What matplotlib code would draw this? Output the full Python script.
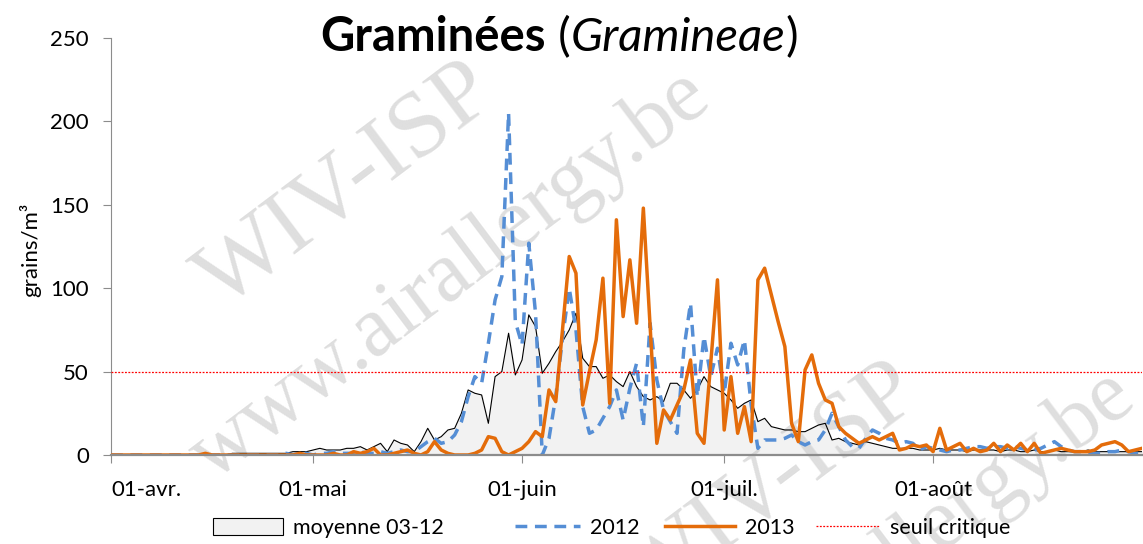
import matplotlib
matplotlib.use('Agg')
import matplotlib.pyplot as plt
from matplotlib.patches import Patch
from matplotlib.lines import Line2D
import numpy as np

# daily counts (grains/m3), day 0 = 01 April, day 153 = 01 September
moyenne = [
    0, 0, 0, 0, 0, 0, 0, 0, 0, 0,
    0, 0, 0, 0, 0, 0, 0, 0, 1, 1,
    1, 1, 1, 1, 1, 1, 1, 2, 2, 2,
    3, 4, 3, 3, 3, 4, 4, 5, 3, 5,
    7, 2, 9, 7, 6, 2, 8, 16, 9, 11,
    15, 16, 25, 39, 37, 36, 19, 47, 50, 73,
    48, 57, 84, 77, 49, 55, 62, 68, 75, 85,
    58, 53, 53, 46, 48, 44, 41, 50, 41, 35,
    33, 35, 32, 43, 43, 39, 34, 39, 47, 41,
    39, 37, 33, 28, 31, 33, 20, 22, 17, 16,
    15, 15, 14, 14, 16, 18, 19, 9, 10, 8,
    7, 6, 8, 7, 6, 5, 4, 4, 4, 4,
    3, 3, 3, 4, 3, 3, 3, 2, 3, 3,
    3, 3, 2, 3, 3, 2, 2, 3, 2, 2,
    3, 2, 2, 2, 2, 3, 2, 2, 2, 2,
    2, 2, 2, 2,
]
y2012 = [
    0, 0, 0, 0, 0, 0, 0, 0, 0, 0,
    0, 0, 0, 0, 0, 0, 0, 0, 0, 0,
    0, 0, 0, 0, 0, 0, 1, 0, 1, 1,
    0, 1, 1, 2, 1, 1, 1, 2, 1, 1,
    2, 1, 2, 3, 2, 2, 5, 8, 10, 7,
    8, 12, 20, 35, 47, 43, 67, 93, 107, 205,
    80, 66, 127, 85, 0, 10, 35, 70, 100, 75,
    29, 13, 15, 22, 29, 39, 21, 40, 55, 17,
    79, 45, 27, 20, 13, 63, 91, 35, 71, 47,
    64, 37, 67, 54, 69, 30, 4, 9, 9, 9,
    10, 12, 8, 6, 8, 9, 15, 25, 17, 9,
    5, 4, 10, 15, 13, 10, 9, 7, 8, 7,
    3, 5, 4, 3, 2, 3, 3, 4, 5, 5,
    4, 5, 5, 4, 5, 4, 3, 3, 4, 6,
    8, 5, 3, 2, 2, 1, 1, 1, 2, 2,
    3, 2, 1, 1,
]
y2013 = [
    0, 0, 0, 0, 0, 0, 0, 0, 0, 0,
    0, 0, 0, 0, 1, 0, 0, 0, 0, 0,
    0, 0, 0, 0, 0, 0, 0, 0, 1, 0,
    0, 0, 0, 1, 0, 0, 2, 1, 2, 4,
    0, 0, 1, 2, 3, 1, 0, 2, 8, 3,
    1, 0, 0, 0, 1, 3, 11, 10, 2, 0,
    2, 4, 8, 14, 11, 39, 32, 75, 119, 109,
    30, 50, 69, 106, 31, 141, 83, 117, 79, 148,
    78, 7, 27, 21, 30, 39, 57, 13, 7, 55,
    105, 15, 47, 13, 29, 8, 105, 112, 96, 80,
    65, 19, 8, 51, 60, 43, 33, 31, 17, 13,
    10, 7, 9, 11, 9, 11, 13, 3, 4, 6,
    5, 6, 2, 16, 3, 5, 7, 2, 4, 2,
    3, 7, 2, 6, 3, 7, 2, 7, 1, 2,
    3, 4, 3, 2, 2, 2, 3, 6, 7, 8,
    6, 2, 3, 4,
]
SEUIL = 50

month_days = [0, 30, 61, 91, 122]
month_labels = ['01-avr.', '01-mai', '01-juin', '01-juil.', '01-août']
legend_labels = ['moyenne 03-12', '2012', '2013', 'seuil critique']

days = np.arange(len(moyenne))

plt.rcParams['font.family'] = ['Lato', 'DejaVu Sans']

BLUE = '#558ED5'
ORANGE = '#E46C0A'
RED = '#FF0000'
FILL = '#F2F2F2'
AXIS = '#8C8C8C'
W, H = 1143, 544

fig = plt.figure(figsize=(W / 100, H / 100), dpi=100)
ax = fig.add_axes([111 / W, 1 - 455 / H, (1142 - 111) / W, (455 - 38) / H])

# watermark
wm = dict(transform=fig.transFigure, rotation=37, rotation_mode='anchor',
          ha='left', va='baseline', family=['Liberation Serif', 'DejaVu Serif'],
          color='#c4c4c4', alpha=0.55, zorder=1.5, clip_on=False)
for dx, dy in [(0, 0), (425, 300)]:
    ax.text((222 + dx) / W, 1 - (310 + dy) / H, 'WIV-ISP', fontsize=68, **wm)
    ax.text((212 + dx) / W, 1 - (482 + dy) / H, 'www.airallergy.be', fontsize=62, **wm)

ax.fill_between(days, moyenne, color=FILL, zorder=1)
ax.plot(days, moyenne, color='black', lw=0.8, zorder=2)
ax.plot(days, y2012, color=BLUE, lw=2.5, dashes=(3.4, 2.2), zorder=3)
ax.plot(days, y2013, color=ORANGE, lw=2.5, zorder=4)
ax.axhline(SEUIL, color=RED, lw=0.9, ls=(0, (1.5, 1.2)), zorder=5)

ax.set_xlim(0, 153)
ax.set_ylim(0, 250)
ax.set_yticks(range(0, 251, 50))
ax.set_xticks(month_days)
ax.set_xticklabels(month_labels)
ax.get_xticklabels()[0].set_horizontalalignment('left')

for s in ['top', 'right']:
    ax.spines[s].set_visible(False)
ax.spines['left'].set_color(AXIS)
ax.spines['bottom'].set_color(AXIS)
ax.spines['bottom'].set_linewidth(1.6)
ax.spines['bottom'].set_zorder(6)
ax.tick_params(axis='y', length=6, color=AXIS, labelsize=16, pad=10)
ax.tick_params(axis='x', length=6, color=AXIS, labelsize=16, pad=12)

fig.text(30 / W, 1 - 250 / H, 'grains/m³', rotation=90, ha='center', va='center', fontsize=16)

# title in three styles
t1 = fig.text(320 / W, 1 - 59 / H, 'Graminées', fontsize=34, fontweight='bold', va='bottom')
t2 = ax.annotate(' (', xy=(1, 0), xycoords=t1, fontsize=34, va='bottom')
t3 = ax.annotate('Gramineae', xy=(1, 0), xycoords=t2, fontsize=34, style='italic', va='bottom')
ax.annotate(')', xy=(1, 0), xycoords=t3, fontsize=34, va='bottom')

# legend entries placed one by one (uneven spacing as in the original)
handles = [
    Patch(facecolor=FILL, edgecolor='black', lw=0.8),
    Line2D([], [], color=BLUE, lw=2.5, dashes=(3.4, 2.2)),
    Line2D([], [], color=ORANGE, lw=2.5),
    Line2D([], [], color=RED, lw=0.9, ls=(0, (1.5, 1.2))),
]
starts = [213, 515, 665, 816]
lengths = [70, 65, 70, 64]
fs = 15.5
for h, lab, x0, ln in zip(handles, legend_labels, starts, lengths):
    fig.legend([h], [lab], loc='center left', bbox_to_anchor=(x0 / W, 1 - 528 / H),
               frameon=False, fontsize=fs, borderpad=0, borderaxespad=0,
               handlelength=ln / (fs * 100 / 72), handletextpad=0.45, handleheight=0.85)

fig.savefig('out.png', dpi=100)
